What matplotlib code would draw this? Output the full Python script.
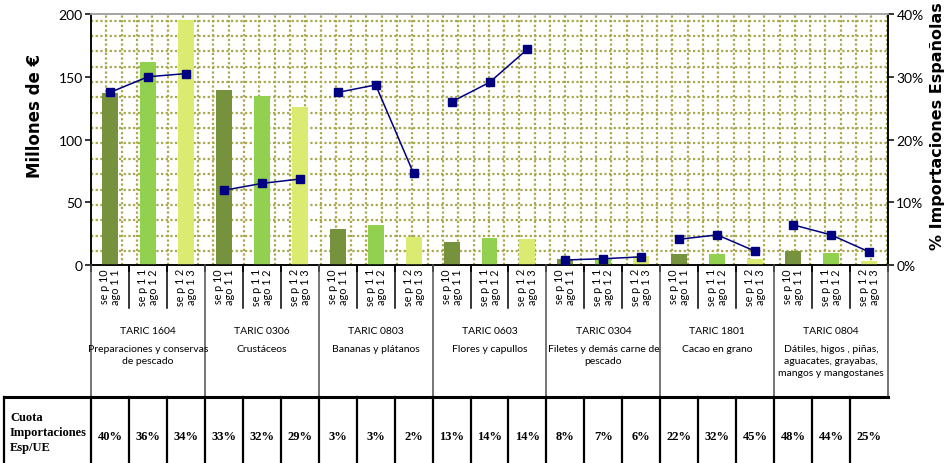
import matplotlib.pyplot as plt
import matplotlib.transforms as mtransforms
from matplotlib.lines import Line2D
from matplotlib.ticker import FuncFormatter
import numpy as np

# datos
periods = ["se p 10\nago 1 1", "se p 1 1\nago 1 2", "se p 1 2\nago 1 3"]
taric = ["TARIC 1604", "TARIC 0306", "TARIC 0803", "TARIC 0603",
         "TARIC 0304", "TARIC 1801", "TARIC 0804"]
products = ["Preparaciones y conservas\nde pescado", "Crustáceos",
            "Bananas y plátanos", "Flores y capullos",
            "Filetes y demás carne de\npescado", "Cacao en grano",
            "Dátiles, higos , piñas,\naguacates, grayabas,\nmangos y mangostanes"]
imports_meur = [[137, 161.5, 195], [139.5, 135, 126], [29, 31.5, 22.5],
                [18, 21.5, 20.5], [4.5, 5, 7.5], [8.5, 8.5, 4.5],
                [11.5, 9.5, 3.5]]
share_es = [[27.5, 30.0, 30.5], [11.9, 13.0, 13.7], [27.5, 28.7, 14.6],
            [26.0, 29.1, 34.4], [0.8, 1.0, 1.3], [4.1, 4.8, 2.2],
            [6.4, 4.8, 2.1]]
cuota_ue = [[40, 36, 34], [33, 32, 29], [3, 3, 2], [13, 14, 14],
            [8, 7, 6], [22, 32, 45], [48, 44, 25]]

bar_colors = ["#76923c", "#92d050", "#dbeb72"]
narrow = ["Lato", "DejaVu Sans"]
serif = ["Liberation Serif", "DejaVu Serif"]

W, H = 947, 464
fig = plt.figure(figsize=(W / 100, H / 100), dpi=100)
ax = fig.add_axes([91 / W, (H - 266) / H, 797 / W, 251 / H])
ax.set_xlim(-0.5, 20.5)
ax.set_ylim(0, 200)
ax2 = ax.twinx()
ax2.set_ylim(0, 40)

def fy(py):
    return 1 - py / H

# fondo con rejilla punteada (patron de Excel)
step_x = 15.3 / (797 / 21)
step_y = 15.35 / (251 / 200)
for gx in np.arange(-0.5 + step_x, 20.5, step_x):
    ax.axvline(gx, color="#a8a84a", lw=1.6, ls=(0, (1, 1.1)), zorder=1)
for gy in np.arange(11.2, 200, step_y):
    ax.axhline(gy, color="#a8a84a", lw=1.6, ls=(0, (1, 1.1)), zorder=1)

n_groups = len(taric)
for g in range(n_groups):
    xs = np.arange(3) + 3 * g
    for p in range(3):
        ax.bar(xs[p], imports_meur[g][p], width=0.42, color=bar_colors[p], zorder=3)
    ax2.plot(xs, share_es[g], color="#000080", marker="s", ms=5.5, lw=1.1, zorder=4)

for a in (ax, ax2):
    for s in ("left", "right", "bottom"):
        a.spines[s].set_color("black")
        a.spines[s].set_linewidth(1.1)
    a.spines["top"].set_color("#a6a6a6")
    a.spines["top"].set_linewidth(1.3)

ax.set_yticks([0, 50, 100, 150, 200])
ax.set_xticks(np.arange(-0.5, 21, 1))
ax.set_xticklabels([])
ax.tick_params(axis="x", length=5, width=1.1)
ax.tick_params(axis="y", length=4, width=1.1, labelsize=10, pad=2)
ax2.set_yticks([0, 10, 20, 30, 40])
ax2.yaxis.set_major_formatter(FuncFormatter(lambda v, _: f"{v:.0f}%"))
ax2.tick_params(axis="y", length=4, width=1.1, labelsize=10, pad=2)
for lab in ax.get_yticklabels() + ax2.get_yticklabels():
    lab.set_family(narrow)

fig.text(35 / W, fy(116), "Millones de €", rotation=90, ha="center", va="center",
         fontsize=12, fontweight="bold")
fig.text(937 / W, fy(126), "% Importaciones Españolas", rotation=90, ha="center",
         va="center", fontsize=11.5, fontweight="bold")

# zona de categorias bajo el eje
trans = mtransforms.blended_transform_factory(ax.transData, fig.transFigure)
for k in range(22):
    b = k - 0.5
    if k % 3 == 0:
        fig.add_artist(Line2D([b, b], [fy(266), fy(398)], color="#505050",
                              lw=1.1, transform=trans))
    else:
        fig.add_artist(Line2D([b, b], [fy(266), fy(309)], color="black",
                              lw=1.1, transform=trans))

for i in range(21):
    fig.text(i, fy(287), periods[i % 3], transform=trans, rotation=90,
             ha="center", va="center", fontsize=7.8, linespacing=1.0,
             family=narrow)

for g in range(n_groups):
    fig.text(3 * g + 1, fy(332), taric[g], transform=trans, ha="center",
             va="center", fontsize=7.5, family=narrow)
    fig.text(3 * g + 1, fy(345), products[g], transform=trans, ha="center",
             va="top", fontsize=7.5, linespacing=1.45, family=narrow)

# tabla de cuota
fig.add_artist(Line2D([4 / W, 888 / W], [fy(398), fy(398)], color="black", lw=2.2))
fig.add_artist(Line2D([4 / W, 4 / W], [fy(398), 0], color="black", lw=1.6))
for k in range(21):
    b = k - 0.5
    fig.add_artist(Line2D([b, b], [fy(398), 0], color="black", lw=1.6,
                          transform=trans))
fig.text(10 / W, fy(433), "Cuota\nImportaciones\nEsp/UE", ha="left", va="center",
         fontsize=9, fontweight="bold", linespacing=1.35, family=serif)
for g in range(n_groups):
    for p in range(3):
        fig.text(3 * g + p, fy(437), f"{cuota_ue[g][p]}%", transform=trans,
                 ha="center", va="center", fontsize=9, fontweight="bold",
                 family=serif)

fig.savefig("out.png", dpi=100)
